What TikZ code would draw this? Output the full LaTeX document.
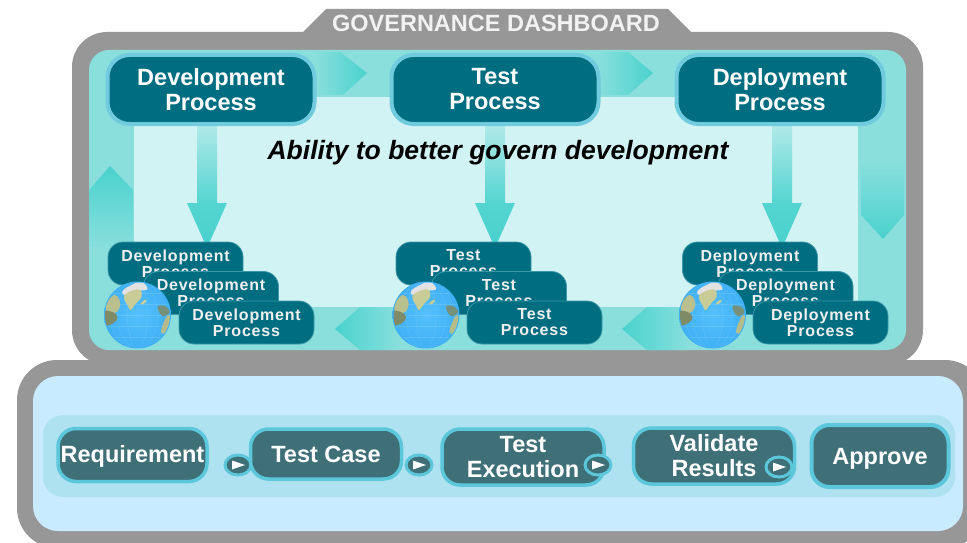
\documentclass[tikz,border=0pt]{standalone}
\usepackage{fontspec}
\setmainfont{Liberation Sans}
\newfontfamily\spaced[LetterSpace=5]{Liberation Sans}
\usetikzlibrary{shapes.geometric}
\definecolor{frame}{HTML}{979797}
\definecolor{baseteal}{HTML}{8ADFDC}
\definecolor{paleteal}{HTML}{D2F3F3}
\definecolor{strongteal}{HTML}{4AD2CE}
\definecolor{boxteal}{HTML}{006D80}
\definecolor{boxedge}{HTML}{6FCBDD}
\definecolor{smalledge}{HTML}{3C98A8}
\definecolor{skyblue}{HTML}{C8EBFF}
\definecolor{bandblue}{HTML}{AEE2F1}
\definecolor{slateteal}{HTML}{3F7078}
\definecolor{slateedge}{HTML}{5CC6DA}
\definecolor{landtan}{HTML}{C8CC96}
\definecolor{landdark}{HTML}{7F8A66}
\definecolor{globea}{HTML}{55C0FC}
\definecolor{globeb}{HTML}{3FB0F5}
\definecolor{globec}{HTML}{2F9ADF}
\definecolor{globed}{HTML}{5F97B0}
\definecolor{globee}{HTML}{A9B6B4}
\pgfdeclareradialshading{globeball}{\pgfpoint{0bp}{0bp}}{
  color(0bp)=(globea);
  color(25bp)=(globeb);
  color(42bp)=(globec);
  color(48bp)=(globed);
  color(50bp)=(globee)}
\tikzset{
  bigbox/.style={rectangle,rounded corners=22pt,draw=boxedge,line width=4pt,fill=boxteal,
    minimum width=207pt,minimum height=69pt,inner sep=0pt,text=white,align=center,
    font=\fontsize{23.5}{25}\selectfont\bfseries},
  smallbox/.style={rectangle,rounded corners=15pt,draw=smalledge,line width=.8pt,fill=boxteal,
    minimum width=135pt,minimum height=43pt,inner sep=0pt,text=white!94!black,align=center,
    font=\fontsize{16}{16}\spaced\bfseries},
  flowbox/.style={rectangle,rounded corners=18pt,draw=slateedge,line width=3.5pt,fill=slateteal,
    inner sep=0pt,text=white,align=center,font=\fontsize{23.5}{25}\selectfont\bfseries},
  flowdot/.style={ellipse,draw=slateedge,line width=3pt,fill=slateteal,minimum width=26pt,
    minimum height=20pt,inner sep=0pt},
  playmark/.style={fill=white!95!skyblue},
  headfill/.style={top color=strongteal!85!baseteal,bottom color=strongteal},
  shaftfill/.style={top color=baseteal!45!paleteal,bottom color=strongteal!85!baseteal},
}
\newcommand{\earth}[1]{%
  \begin{scope}[shift={(#1)}]
    \shade[shading=globeball] (0,0) circle[radius=33.5pt];
    \begin{scope}
      \clip (0,0) circle[radius=32.5pt];
      \foreach \w in {10,20,28}{\draw[white,opacity=.12,line width=.4pt] (0,0) ellipse[x radius=\w pt,y radius=33pt];}
      \foreach \h in {-22,-11,0,11,22}{\draw[white,opacity=.12,line width=.4pt] (-33,\h) -- (33,\h);}
      \fill[white!72!frame] plot[smooth cycle,tension=.7] coordinates {(-15,-24) (-6,-30) (4,-33) (10,-26) (2,-24) (-12,-20)};
      \fill[landtan] plot[smooth cycle,tension=.6] coordinates {(-13,-20) (-4,-25) (3,-25) (4,-18) (-2,-11) (-7,-5) (-10,-10) (-13,-15)};
      \fill[landtan] plot[smooth cycle,tension=.7] coordinates {(3,-11) (7,-15) (9,-14) (6,-11)};
      \fill[landtan!80!landdark] plot[smooth cycle,tension=.7] coordinates {(-30,-13) (-23,-20) (-18,-15) (-18,-7) (-23,-2) (-31,-4)};
      \fill[landdark] plot[smooth cycle,tension=.7] coordinates {(-34,-3) (-25,-3) (-20,2) (-24,8) (-34,10)};
      \fill[landdark!85!globeb] plot[smooth cycle,tension=.7] coordinates {(20,-8) (27,-9) (32,-3) (25,1)};
      \fill[landtan!75!landdark] plot[smooth cycle,tension=.7] coordinates {(24,18) (26,8) (31,0) (35,5) (33,16)};
    \end{scope}
  \end{scope}}
\begin{document}
\begin{tikzpicture}[x=1pt,y=-1pt]
\useasboundingbox (0,0) rectangle (967,543);
\clip (0,0) rectangle (967,543);
\fill[white] (0,0) rectangle (967,543);
% frames
\fill[frame] (302,33) -- (326,9) -- (668,9) -- (692,33) -- cycle;
\fill[frame,rounded corners=35pt] (72,32) rectangle (923,365);
\fill[frame,rounded corners=40pt] (17,360) rectangle (985,548);
\fill[baseteal,rounded corners=20pt] (89,50) rectangle (906,350);
\fill[paleteal] (134,97) rectangle (858,307);
\fill[skyblue,rounded corners=25pt] (33,376) rectangle (963,531);
\fill[bandblue,rounded corners=20pt] (43,415) rectangle (955,497);
% loop arrows
\shade[left color=baseteal,right color=strongteal] (315,52) -- (340,52) -- (367,73) -- (343,95) -- (315,95) -- cycle;
\shade[left color=baseteal,right color=strongteal] (597,52) -- (628,52) -- (653,73) -- (628,95) -- (597,95) -- cycle;
\shade[top color=baseteal,bottom color=strongteal] (861,160) -- (904,160) -- (904,215) -- (883,239) -- (861,215) -- cycle;
\shade[top color=strongteal,bottom color=baseteal] (89,190) -- (110,166) -- (133,190) -- (133,250) -- (89,250) -- cycle;
\shade[left color=strongteal,right color=baseteal] (335,329) -- (360,307) -- (400,307) -- (400,350) -- (360,350) -- cycle;
\shade[left color=strongteal,right color=baseteal] (622,329) -- (647,307) -- (690,307) -- (690,350) -- (647,350) -- cycle;
% down arrows
\foreach \c in {207,495,782}{
  \shade[shaftfill] (\c-10,124) rectangle (\c+10,204);
  \shade[headfill] (\c-20,203) -- (\c+20,203) -- (\c,248) -- cycle;
}
% top process boxes
\node[bigbox] (dev) at (211,89.5) {Development\\Process};
\node[bigbox] (tst) at (495,89.5) {Test\\Process};
\node[bigbox] (dep) at (780,89.5) {Deployment\\Process};
\node[font=\fontsize{26.5}{28}\selectfont\bfseries\itshape,text=black,inner sep=0pt] (ability) at (498,152.5) {Ability to better govern development};
\node[font=\fontsize{23.5}{25}\selectfont\bfseries,text=white!95!black,inner sep=0pt] (title) at (496,23) {GOVERNANCE DASHBOARD};
% stacks
\node[smallbox] (d1) at (175.5,263.5) {Development\\Process};
\node[smallbox] (d2) at (211,293) {Development\\Process};
\earth{137.5,315}
\node[smallbox] (d3) at (246.5,322.5) {Development\\Process};
\node[smallbox] (t1) at (463.5,263.5) {Test\\Process};
\node[smallbox] (t2) at (499,293) {Test\\Process};
\earth{426,315}
\node[smallbox] (t3) at (534.5,322.5) {Test\\Process};
\node[smallbox] (p1) at (750,263.5) {Deployment\\Process};
\node[smallbox] (p2) at (785.5,293) {Deployment\\Process};
\earth{712.5,315}
\node[smallbox] (p3) at (820.5,322.5) {Deployment\\Process};
% flow
\node[flowbox,minimum width=149pt,minimum height=53pt,text height=17pt,text depth=2pt] (req) at (132.5,455) {Requirement};
\node[flowdot] (o1) at (238,465) {};
\node[flowbox,minimum width=151pt,minimum height=50pt] (tc) at (326,454) {Test Case};
\node[flowdot] (o2) at (419,465) {};
\node[flowbox,minimum width=162pt,minimum height=56pt] (te) at (523,457) {Test\\Execution};
\node[flowdot] (o3) at (598,465) {};
\node[flowbox,minimum width=161pt,minimum height=56pt] (vr) at (714,456) {Validate\\Results};
\node[flowdot] (o4) at (779,467) {};
\node[flowbox,minimum width=137pt,minimum height=62pt,line width=4pt,text height=17pt,text depth=0pt] (app) at (880,456) {Approve};
\foreach \o in {o1,o2,o3,o4}{
  \fill[playmark] ([shift={(-6,-4.5)}]\o.center) -- ([shift={(7,0)}]\o.center) -- ([shift={(-6,4.5)}]\o.center) -- cycle;
}
\end{tikzpicture}
\end{document}
